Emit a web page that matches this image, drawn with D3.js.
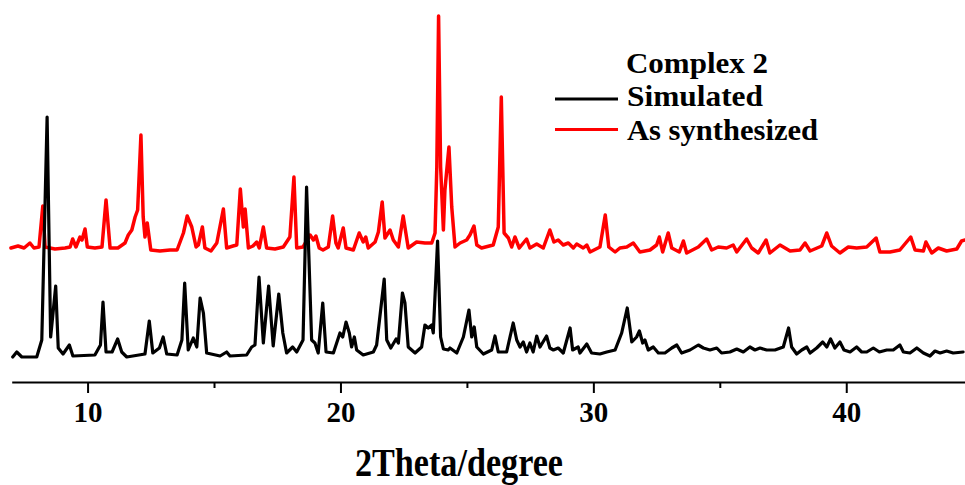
<!DOCTYPE html>
<html>
<head>
<meta charset="utf-8">
<script src="https://cdn.jsdelivr.net/npm/d3@7/dist/d3.min.js"></script>
<style>
  html, body { margin: 0; padding: 0; background: #fff; }
  svg { display: block; }
  text { font-family: "Liberation Serif", "Times New Roman", serif; font-weight: bold; fill: #000; }
</style>
</head>
<body>
<div id="chart"></div>
<script>
// 2Theta (degree) and intensity (a.u.)
const simTheta = [7.04,7.20,7.40,7.99,8.19,8.40,8.54,8.74,8.84,9.03,
  9.28,9.42,10.29,10.51,10.61,10.73,10.97,11.19,11.35,11.55,
  12.27,12.44,12.58,12.84,12.99,13.13,13.54,13.73,13.84,13.98,
  14.18,14.32,14.45,14.58,14.71,15.24,15.50,15.63,16.29,16.49,
  16.62,16.78,16.95,17.16,17.34,17.56,17.72,17.87,18.11,18.27,
  18.52,18.66,18.86,18.99,19.12,19.30,19.43,19.72,19.98,20.09,
  20.22,20.35,20.44,20.55,20.64,20.90,21.30,21.43,21.73,21.83,
  21.99,22.20,22.29,22.45,22.55,22.68,22.95,23.21,23.34,23.47,
  23.61,23.67,23.84,23.96,24.07,24.26,24.33,24.60,24.86,25.08,
  25.19,25.29,25.39,25.65,25.98,26.11,26.24,26.57,26.83,26.97,
  27.10,27.23,27.36,27.49,27.62,27.76,27.89,28.15,28.28,28.42,
  28.61,28.81,29.08,29.18,29.40,29.47,29.74,29.93,30.26,30.53,
  30.86,31.12,31.34,31.52,31.71,31.82,31.95,32.04,32.17,32.37,
  32.57,32.83,33.10,33.30,33.49,33.82,34.15,34.35,34.61,34.88,
  35.07,35.40,35.67,35.93,36.19,36.39,36.59,36.85,37.18,37.51,
  37.72,37.84,38.04,38.24,38.44,38.57,38.83,39.07,39.23,39.38,
  39.55,39.75,39.91,40.15,40.41,40.61,40.81,41.07,41.31,41.60,
  41.86,42.12,42.26,42.52,42.79,43.05,43.31,43.51,43.71,43.97,
  44.23,44.62];
const simIntensity = [25,30,25,25,42,265,45,96,34,28,
  37,26,27,37,80,30,30,43,30,25,
  28,61,29,34,45,28,27,42,99,32,
  44,35,84,69,29,26,30,26,27,35,
  37,105,39,96,36,88,49,29,35,30,
  42,195,42,39,29,79,30,29,49,45,
  60,49,35,45,32,27,30,37,103,42,
  34,43,39,89,79,35,29,35,57,54,
  57,49,141,45,33,32,34,29,45,72,
  45,55,35,28,32,46,30,30,59,42,
  35,40,30,39,30,46,35,46,34,32,
  34,29,54,32,35,29,38,29,28,30,
  32,49,74,40,45,51,39,42,32,35,
  29,29,34,37,29,32,37,34,32,34,
  29,30,33,30,35,32,34,32,32,35,
  54,35,28,32,35,29,34,40,35,43,
  34,40,32,30,35,30,30,34,30,32,
  32,37,30,29,34,29,26,31,29,31,
  29,30];

const expTheta = [6.97,7.25,7.49,7.72,7.88,8.08,8.23,8.32,8.71,9.11,
  9.31,9.41,9.54,9.70,9.78,9.90,9.99,10.29,10.57,10.73,
  10.89,11.20,11.48,11.61,11.75,11.88,11.98,12.11,12.20,12.27,
  12.36,12.50,12.86,13.26,13.54,13.79,13.94,14.12,14.29,14.38,
  14.54,14.64,14.88,15.11,15.37,15.50,15.75,15.90,16.04,16.16,
  16.23,16.36,16.54,16.69,16.79,16.95,17.08,17.41,17.74,18.00,
  18.16,18.27,18.52,18.80,18.93,19.03,19.16,19.31,19.52,19.69,
  19.82,19.91,20.11,20.22,20.51,20.74,20.90,21.00,21.10,21.37,
  21.50,21.65,21.76,21.96,22.09,22.29,22.48,22.68,23.01,23.34,
  23.61,23.74,23.81,23.88,23.96,24.07,24.13,24.29,24.40,24.53,
  24.73,24.99,25.12,25.28,25.39,25.58,26.04,26.24,26.36,26.47,
  26.64,26.77,26.90,27.07,27.36,27.49,27.76,28.02,28.28,28.44,
  28.61,28.81,29.01,29.21,29.34,29.60,29.74,29.87,30.26,30.47,
  30.61,30.86,31.05,31.32,31.58,31.84,32.24,32.50,32.61,32.74,
  32.96,33.10,33.40,33.56,33.69,34.15,34.48,34.68,34.94,35.27,
  35.53,35.67,36.06,36.26,36.52,36.83,36.98,37.38,37.78,38.17,
  38.37,38.57,39.03,39.23,39.42,39.75,40.08,40.41,40.81,41.18,
  41.33,41.73,42.12,42.55,42.72,43.05,43.15,43.38,43.64,43.97,
  44.37,44.56,44.70];
const expIntensity = [134,136,134,139,134,135,176,135,133,134,
  135,143,135,145,142,153,135,134,135,182,
  134,134,139,147,152,165,172,247,165,145,
  159,132,131,132,132,149,166,155,135,137,
  155,134,131,139,173,134,136,137,193,155,
  173,134,136,140,134,155,134,133,135,145,
  205,134,135,147,142,146,134,132,135,166,
  139,134,154,134,132,149,140,145,134,140,
  150,180,144,152,142,135,166,134,140,139,
  139,149,215,366,215,152,192,235,175,135,
  139,142,147,156,137,134,137,155,285,149,
  144,135,145,134,143,134,138,134,152,140,
  142,137,139,134,138,134,137,130,135,167,
  135,130,134,135,139,130,132,137,145,130,
  149,134,130,141,129,135,143,132,135,134,
  137,130,143,134,129,142,129,137,131,132,
  139,131,136,149,136,129,135,134,135,144,
  130,130,132,145,132,131,140,129,134,131,
  133,141,142];

const majorTicks = [10, 20, 30, 40];
const minorTicks = [15, 25, 35];
const seriesNames = ["Simulated", "As synthesized"];
const seriesColors = ["#000000", "#ff0000"];
const legendTitle = "Complex 2";
const xTitle = "2Theta/degree";

const W = 965, H = 485;
const svg = d3.select("#chart").append("svg").attr("width", W).attr("height", H);

const x = d3.scaleLinear().domain([7, 45]).range([11.7, 972.7]);
const y = d3.scaleLinear().domain([0, 382]).range([382, 0]);

const line = d3.line().x(d => x(d[0])).y(d => y(d[1]));
const series = [
  d3.zip(simTheta, simIntensity),
  d3.zip(expTheta, expIntensity)
];
const strokeWidths = [3.2, 3.5];

// Draw experimental first, simulated on top
[1, 0].forEach(i => {
  svg.append("path")
    .datum(series[i])
    .attr("fill", "none")
    .attr("stroke", seriesColors[i])
    .attr("stroke-width", strokeWidths[i])
    .attr("stroke-linejoin", "round")
    .attr("stroke-linecap", "round")
    .attr("d", line);
});

// Axis
const axisY = y(0);
const gMinor = svg.append("g").attr("transform", `translate(0,${axisY})`)
  .call(d3.axisBottom(x).tickValues(minorTicks).tickSize(6).tickSizeOuter(0).tickFormat(""));
gMinor.select(".domain").remove();
gMinor.selectAll("line").attr("stroke-width", 2);

const gAxis = svg.append("g").attr("transform", `translate(0,${axisY})`)
  .call(d3.axisBottom(x).tickValues(majorTicks).tickSize(11).tickSizeOuter(0).tickFormat(d3.format("d")));
gAxis.select(".domain").attr("stroke-width", 2.2);
gAxis.selectAll("line").attr("stroke-width", 2);
gAxis.selectAll("text")
  .attr("dy", null)
  .attr("y", 40)
  .attr("font-size", 29)
  .style("font-family", '"Liberation Serif", "Times New Roman", serif')
  .style("font-weight", "bold")
  .attr("fill", "#000");

// Axis title
svg.append("text")
  .attr("x", 355).attr("y", 476)
  .attr("font-size", 39)
  .attr("textLength", 208)
  .attr("lengthAdjust", "spacingAndGlyphs")
  .text(xTitle);

// Legend
svg.append("text").attr("x", 626).attr("y", 72.5).attr("font-size", 30)
  .attr("textLength", 142).attr("lengthAdjust", "spacingAndGlyphs")
  .text(legendTitle);
const legendYs = [99, 129.5];
const legendBaselines = [106, 139.5];
const legendWidths = [136, 191];
seriesNames.forEach((name, i) => {
  svg.append("line")
    .attr("x1", 555).attr("x2", 618)
    .attr("y1", legendYs[i]).attr("y2", legendYs[i])
    .attr("stroke", seriesColors[i]).attr("stroke-width", 3);
  svg.append("text")
    .attr("x", 627).attr("y", legendBaselines[i])
    .attr("font-size", 30)
    .attr("textLength", legendWidths[i])
    .attr("lengthAdjust", "spacingAndGlyphs")
    .text(name);
});
</script>
</body>
</html>
